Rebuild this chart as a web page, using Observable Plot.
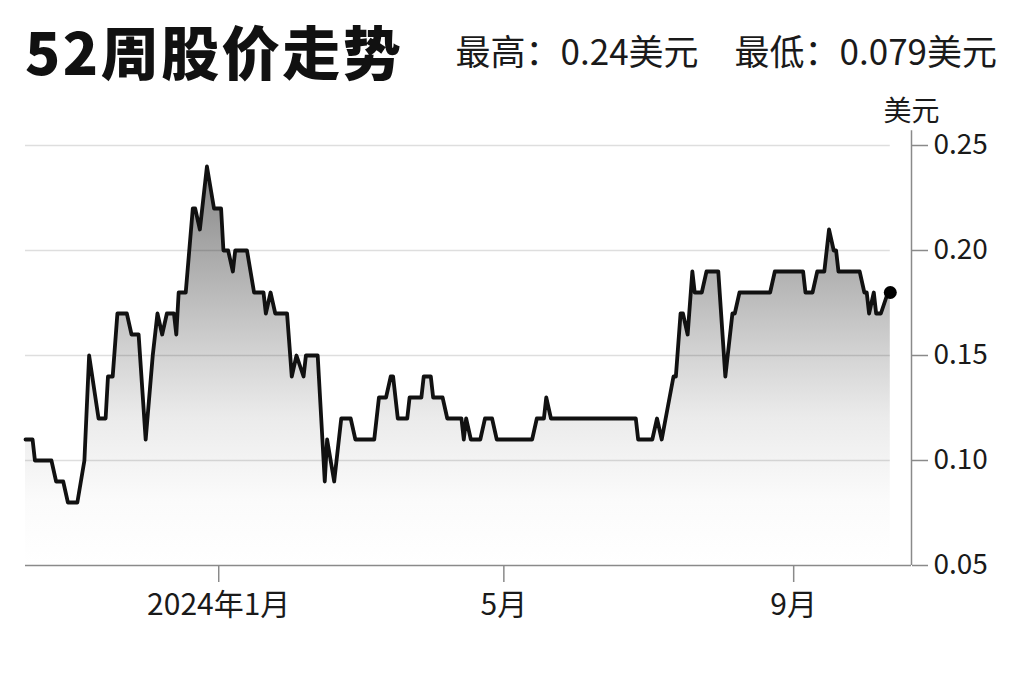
<!DOCTYPE html>
<html>
<head>
<meta charset="utf-8">
<script src="https://cdn.jsdelivr.net/npm/d3@7"></script>
<script src="https://cdn.jsdelivr.net/npm/@observablehq/plot@0.6"></script>
<style>
  html, body { margin: 0; padding: 0; background: #fff; }
  body { width: 1024px; height: 682px; overflow: hidden; font-family: "Noto Sans CJK SC", "Noto Sans", sans-serif; color: #111; }
  #head { position: relative; height: 80px; }
  #title { position: absolute; left: 25px; top: 21px; font-size: 58px; font-weight: 900; letter-spacing: 2.5px; line-height: 1; white-space: nowrap; }
  #sub { position: absolute; right: 27px; top: 32px; font-size: 35px; font-weight: 400; line-height: 1; white-space: nowrap; color: #1a1a1a; }
  #sub span { margin-left: 36px; }
  svg { display: block; }
</style>
</head>
<body>
<div id="head">
  <div id="title"></div>
  <div id="sub"></div>
</div>
<div id="chart"></div>
<script>
const titleText = "52周股价走势";
const highText = "最高：0.24美元";
const lowText = "最低：0.079美元";
const unitText = "美元";

const dates = [
  "2023-10-11","2023-10-14","2023-10-15","2023-10-22","2023-10-24","2023-10-27","2023-10-29","2023-11-02",
  "2023-11-05","2023-11-07","2023-11-11","2023-11-14","2023-11-15","2023-11-17","2023-11-19","2023-11-23",
  "2023-11-25","2023-11-28","2023-12-01","2023-12-04","2023-12-06","2023-12-08","2023-12-10","2023-12-13",
  "2023-12-14","2023-12-15","2023-12-18","2023-12-21","2023-12-22","2023-12-24","2023-12-27","2023-12-30",
  "2024-01-02","2024-01-03","2024-01-05","2024-01-07","2024-01-08","2024-01-13","2024-01-16","2024-01-20",
  "2024-01-21","2024-01-23","2024-01-25","2024-01-30","2024-02-01","2024-02-03","2024-02-06","2024-02-07",
  "2024-02-12","2024-02-15","2024-02-16","2024-02-19","2024-02-22","2024-02-26","2024-02-28","2024-03-07",
  "2024-03-09","2024-03-12","2024-03-14","2024-03-15","2024-03-17","2024-03-21","2024-03-22","2024-03-27",
  "2024-03-28","2024-03-31","2024-04-01","2024-04-05","2024-04-07","2024-04-13","2024-04-14","2024-04-15",
  "2024-04-17","2024-04-21","2024-04-23","2024-04-26","2024-04-28","2024-05-13","2024-05-15","2024-05-18",
  "2024-05-19","2024-05-21","2024-06-26","2024-06-27","2024-07-03","2024-07-05","2024-07-07","2024-07-12",
  "2024-07-13","2024-07-15","2024-07-16","2024-07-18","2024-07-20","2024-07-21","2024-07-24","2024-07-26",
  "2024-07-31","2024-08-03","2024-08-06","2024-08-07","2024-08-09","2024-08-22","2024-08-24","2024-09-05",
  "2024-09-06","2024-09-09","2024-09-11","2024-09-14","2024-09-16","2024-09-18","2024-09-19","2024-09-20",
  "2024-09-29","2024-10-01","2024-10-02","2024-10-03","2024-10-05","2024-10-06","2024-10-08","2024-10-11",
  "2024-10-12"
];
const prices = [
  0.11,0.11,0.10,0.10,0.09,0.09,0.08,0.08,
  0.10,0.15,0.12,0.12,0.14,0.14,0.17,0.17,
  0.16,0.16,0.11,0.15,0.17,0.16,0.17,0.17,
  0.16,0.18,0.18,0.22,0.22,0.21,0.24,0.22,
  0.22,0.20,0.20,0.19,0.20,0.20,0.18,0.18,
  0.17,0.18,0.17,0.17,0.14,0.15,0.14,0.15,
  0.15,0.09,0.11,0.09,0.12,0.12,0.11,0.11,
  0.13,0.13,0.14,0.14,0.12,0.12,0.13,0.13,
  0.14,0.14,0.13,0.13,0.12,0.12,0.11,0.12,
  0.11,0.11,0.12,0.12,0.11,0.11,0.12,0.12,
  0.13,0.12,0.12,0.11,0.11,0.12,0.11,0.14,
  0.14,0.17,0.17,0.16,0.19,0.18,0.18,0.19,
  0.19,0.14,0.17,0.17,0.18,0.18,0.19,0.19,
  0.18,0.18,0.19,0.19,0.21,0.20,0.20,0.19,
  0.19,0.18,0.18,0.17,0.18,0.17,0.17,0.18,
  0.18
];

const xTickDates = ["2024-01-01","2024-05-01","2024-09-01"];
const xTickLabels = ["2024年1月","5月","9月"];
const yTicks = [0.05, 0.10, 0.15, 0.20, 0.25];
const gridValues = [0.10, 0.15, 0.20, 0.25];
const xDomain = ["2023-10-11","2024-10-21"];
const yDomain = [0.05, 0.25];

document.getElementById("title").textContent = titleText;
const sub = document.getElementById("sub");
sub.appendChild(document.createTextNode(highText));
const lowSpan = document.createElement("span");
lowSpan.textContent = lowText;
sub.appendChild(lowSpan);

const data = dates.map((d, i) => ({date: new Date(d), price: prices[i]}));
const firstDate = data[0].date;
const lastPoint = data[data.length - 1];
const tickDates = xTickDates.map(d => new Date(d));

const gradientDefs = () => {
  const defs = d3.create("svg:defs");
  const g = defs.append("linearGradient")
    .attr("id", "areaGrad").attr("x1", 0).attr("y1", 0).attr("x2", 0).attr("y2", 1);
  [[0, "#858585"], [0.21, "#a8a8a8"], [0.47, "#d3d3d3"], [0.63, "#ebebeb"], [0.84, "#fbfbfb"], [1, "#ffffff"]]
    .forEach(([o, c]) => g.append("stop").attr("offset", o).attr("stop-color", c));
  return defs.node();
};

const chart = Plot.plot({
  width: 1024,
  height: 602,
  marginTop: 65,
  marginBottom: 117,
  marginLeft: 25,
  marginRight: 113,
  style: {fontFamily: "'Noto Sans CJK SC', 'Noto Sans', sans-serif", fontSize: "28px", background: "#fff"},
  x: {type: "utc", domain: xDomain.map(d => new Date(d))},
  y: {domain: yDomain},
  marks: [
    gradientDefs,
    Plot.areaY(data, {x: "date", y1: () => yDomain[0], y2: "price", fill: "url(#areaGrad)"}),
    Plot.ruleY(gridValues, {x1: () => firstDate, x2: () => lastPoint.date, stroke: "#000", strokeOpacity: 0.13, strokeWidth: 1.5}),
    Plot.ruleY([yDomain[0]], {stroke: "#8a8a8a", strokeWidth: 1.5}),
    Plot.ruleX([new Date(xDomain[1])], {y1: () => yDomain[0], y2: () => 0.257, stroke: "#8a8a8a", strokeWidth: 1.5}),
    Plot.line(data, {x: "date", y: "price", stroke: "#111", strokeWidth: 3.8, strokeLinejoin: "round", strokeLinecap: "round"}),
    Plot.dot([lastPoint], {x: "date", y: "price", r: 6.5, fill: "#000"}),
    Plot.axisY({
      anchor: "right", ticks: yTicks, tickFormat: d3.format(".2f"), tickSize: 16, tickPadding: 6,
      fontSize: 28, stroke: "#8a8a8a", fill: "#1a1a1a", strokeWidth: 1.5, label: null
    }),
    Plot.axisX({
      ticks: tickDates,
      tickFormat: d => xTickLabels[tickDates.findIndex(t => +t === +d)],
      tickSize: 17, tickPadding: 11, fontSize: 30, stroke: "#8a8a8a", fill: "#1a1a1a", strokeWidth: 1.5, label: null
    }),
    Plot.text([unitText], {frameAnchor: "top-right", text: d => d, dy: -33, textAnchor: "middle", lineAnchor: "middle", fontSize: 28, fill: "#1a1a1a"})
  ]
});
document.getElementById("chart").appendChild(chart);
</script>
</body>
</html>
